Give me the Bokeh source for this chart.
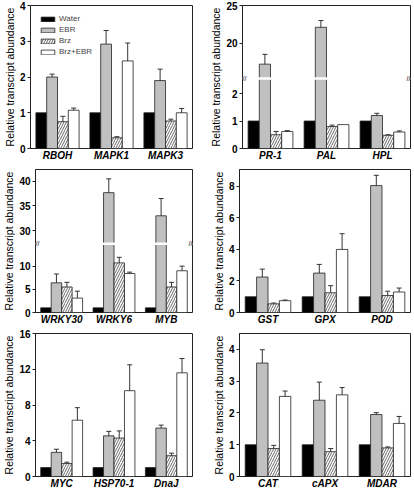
from bokeh.plotting import figure
from bokeh.models import (FixedTicker, Whisker, TeeHead, Span, Label, ColumnDataSource,
                          Range1d, Legend, LegendItem)
from bokeh.layouts import column, row
from bokeh.embed import file_html
from bokeh.resources import INLINE

treatments = ["Water", "EBR", "Brz", "Brz+EBR"]

# Panel 1
genes1 = ["RBOH", "MAPK1", "MAPK3"]
water1 = [1, 1, 1]
ebr1 = [2.0, 2.92, 1.9]
ebr1_err = [0.08, 0.38, 0.32]
brz1 = [0.75, 0.3, 0.77]
brz1_err = [0.15, 0.03, 0.05]
be1 = [1.07, 2.45, 1.0]
be1_err = [0.06, 0.5, 0.12]

# Panel 2 (broken axis)
genes2 = ["PR-1", "PAL", "HPL"]
water2 = [1, 1, 1]
ebr2 = [17.2, 22.1, 1.2]
ebr2_err = [1.3, 0.9, 0.08]
brz2 = [0.5, 0.8, 0.48]
brz2_err = [0.12, 0.05, 0.02]
be2 = [0.62, 0.87, 0.6]
be2_err = [0.03, 0.0, 0.04]

# Panel 3 (broken axis)
genes3 = ["WRKY30", "WRKY6", "MYB"]
water3 = [1, 1, 1]
ebr3 = [6.4, 37.7, 33.0]
ebr3_err = [1.9, 2.8, 3.5]
brz3 = [5.5, 10.7, 5.5]
brz3_err = [1.0, 1.2, 1.0]
be3 = [3.1, 8.4, 9.0]
be3_err = [1.5, 0.3, 1.0]

# Panel 4
genes4 = ["GST", "GPX", "POD"]
water4 = [1, 1, 1]
ebr4 = [2.25, 2.5, 8.05]
ebr4_err = [0.5, 0.55, 0.65]
brz4 = [0.55, 1.25, 1.08]
brz4_err = [0.05, 0.45, 0.27]
be4 = [0.75, 4.0, 1.3]
be4_err = [0.04, 1.0, 0.25]

# Panel 5
genes5 = ["MYC", "HSP70-1", "DnaJ"]
water5 = [1, 1, 1]
ebr5 = [2.7, 4.55, 5.42]
ebr5_err = [0.35, 0.5, 0.33]
brz5 = [1.45, 4.3, 2.33]
brz5_err = [0.15, 0.8, 0.28]
be5 = [6.3, 9.6, 11.6]
be5_err = [1.4, 2.9, 1.6]

# Panel 6
genes6 = ["CAT", "cAPX", "MDAR"]
water6 = [1, 1, 1]
ebr6 = [3.57, 2.4, 1.95]
ebr6_err = [0.42, 0.57, 0.06]
brz6 = [0.88, 0.78, 0.9]
brz6_err = [0.1, 0.1, 0.03]
be6 = [2.52, 2.57, 1.67]
be6_err = [0.17, 0.23, 0.22]

ticks1 = [0, 1, 2, 3, 4]
ticks2 = [0, 1, 2, 20, 25]
ticks3 = [0, 5, 10, 30, 35, 40]
ticks4 = [0, 2, 4, 6, 8]
ticks5 = [0, 4, 8, 12, 16]
ticks6 = [0, 1, 2, 3, 4]

# broken axis: (lower max, upper min, upper max, fraction of height for lower part)
break2 = (2.55, 15.3, 25.0, 0.49)
break3 = (14.8, 27.3, 42.4, 0.48)

FONT = "Liberation Sans"
EDGE = "#222222"


def fwd(v, brk):
    if brk is None:
        return v
    lo_max, hi_min, hi_max, frac = brk
    if v <= lo_max:
        r = v / lo_max * frac
    else:
        r = frac + (v - hi_min) / (hi_max - hi_min) * (1 - frac)
    return round(r, 6)


def panel(genes, water, ebr, ebr_err, brz, brz_err, be, be_err, ticks,
          ymax=None, brk=None, width=207, height=160, top=6, left=30, right=4,
          bottom=12, legend=False):
    ytop = 1.0 if brk is not None else ymax
    p = figure(width=width, height=height, output_backend="svg", toolbar_location=None,
               x_range=Range1d(0, 3), y_range=Range1d(0, ytop),
               min_border_left=left, min_border_right=right, min_border_top=top,
               min_border_bottom=bottom, background_fill_color="white",
               border_fill_color="white")
    series = [
        (water, None, dict(fill_color="black")),
        (ebr, ebr_err, dict(fill_color="#c0c0c0")),
        (brz, brz_err, dict(fill_color="white", hatch_pattern="/", hatch_color="#444444",
                            hatch_scale=5, hatch_weight=0.8)),
        (be, be_err, dict(fill_color="white")),
    ]
    renderers = []
    for j, (vals, errs, style) in enumerate(series):
        xs = [i + 0.5 + (j - 1.5) * 0.2 for i in range(3)]
        tops = [fwd(v, brk) for v in vals]
        r = p.vbar(x=xs, top=tops, bottom=0, width=0.2, line_color=EDGE,
                   line_width=0.8, **style)
        renderers.append(r)
        if errs is not None:
            ex, up, lo = [], [], []
            for x, v, e in zip(xs, vals, errs):
                if e > 0:
                    ex.append(x)
                    up.append(fwd(v + e, brk))
                    lo.append(fwd(v - e, brk))
            src = ColumnDataSource(dict(x=ex, upper=up, lower=lo))
            w = Whisker(source=src, base="x", upper="upper", lower="lower",
                        line_color="#333333", line_width=1,
                        upper_head=TeeHead(size=5, line_color="#333333", line_width=1),
                        lower_head=TeeHead(size=5, line_color="#333333", line_width=1))
            p.add_layout(w)

    if brk is not None:
        frac = brk[3]
        p.add_layout(Span(location=frac, dimension="width", line_color="white",
                          line_width=2.5))
        for xx, xo in ((0, 2), (3, -2)):
            p.add_layout(Label(x=xx, y=frac, x_offset=xo, text="//", text_font_size="7px",
                               text_align="center", text_baseline="middle",
                               text_color="black", text_font=FONT))

    tvals = [fwd(t, brk) for t in ticks]
    p.yaxis.ticker = FixedTicker(ticks=tvals)
    p.yaxis.major_label_overrides = {tv: str(t) for tv, t in zip(tvals, ticks)}
    p.yaxis.major_label_text_font = FONT
    p.yaxis.major_label_text_font_style = "bold"
    p.yaxis.major_label_text_font_size = "10px"
    p.yaxis.major_label_text_color = "black"
    p.yaxis.axis_label = "Relative transcript abundance"
    p.yaxis.axis_label_text_font = FONT
    p.yaxis.axis_label_text_font_style = "normal"
    p.yaxis.axis_label_text_font_size = "10.5px"
    p.yaxis.axis_label_text_color = "black"
    p.yaxis.axis_label_standoff = 1
    p.yaxis.major_label_standoff = 2
    p.yaxis.major_tick_out = 3
    p.yaxis.major_tick_in = 0
    p.yaxis.minor_tick_line_color = None
    p.yaxis.axis_line_color = EDGE
    p.yaxis.major_tick_line_color = EDGE

    p.xaxis.ticker = FixedTicker(ticks=[0.5, 1.5, 2.5])
    p.xaxis.major_label_overrides = {0.5: genes[0], 1.5: genes[1], 2.5: genes[2]}
    p.xaxis.major_label_text_font = FONT
    p.xaxis.major_label_text_font_style = "bold italic"
    p.xaxis.major_label_text_font_size = "10px"
    p.xaxis.major_label_text_color = "black"
    p.xaxis.major_label_standoff = 1
    p.xaxis.major_tick_line_color = None
    p.xaxis.major_tick_out = 0
    p.xaxis.major_tick_in = 0
    p.xaxis.minor_tick_line_color = None
    p.xaxis.axis_line_color = None

    p.grid.visible = False
    p.outline_line_color = EDGE
    p.outline_line_width = 1

    if legend:
        items = [LegendItem(label=t, renderers=[r]) for t, r in zip(treatments, renderers)]
        lg = Legend(items=items, location="top_left", border_line_color=None,
                    background_fill_alpha=0, glyph_width=17, glyph_height=6,
                    label_text_font_size="8px", label_text_font=FONT, label_height=8,
                    spacing=2, padding=0, margin=9, label_standoff=3)
        p.add_layout(lg)
    return p


p1 = panel(genes1, water1, ebr1, ebr1_err, brz1, brz1_err, be1, be1_err, ticks1,
           ymax=4, height=163, top=5, left=30, right=15, legend=True)
p2 = panel(genes2, water2, ebr2, ebr2_err, brz2, brz2_err, be2, be2_err, ticks2,
           brk=break2, height=163, top=5, left=32, right=4)
p3 = panel(genes3, water3, ebr3, ebr3_err, brz3, brz3_err, be3, be3_err, ticks3,
           brk=break3, height=164, top=6, left=30, right=15)
p4 = panel(genes4, water4, ebr4, ebr4_err, brz4, brz4_err, be4, be4_err, ticks4,
           ymax=9.07, height=164, top=5, left=32, right=4)
p5 = panel(genes5, water5, ebr5, ebr5_err, brz5, brz5_err, be5, be5_err, ticks5,
           ymax=16, height=164, top=6, left=30, right=15)
p6 = panel(genes6, water6, ebr6, ebr6_err, brz6, brz6_err, be6, be6_err, ticks6,
           ymax=4.5, height=164, top=5, left=32, right=4)

layout = column(row(p1, p2), row(p3, p4), row(p5, p6))
open("out.html", "w").write(file_html(layout, INLINE))
